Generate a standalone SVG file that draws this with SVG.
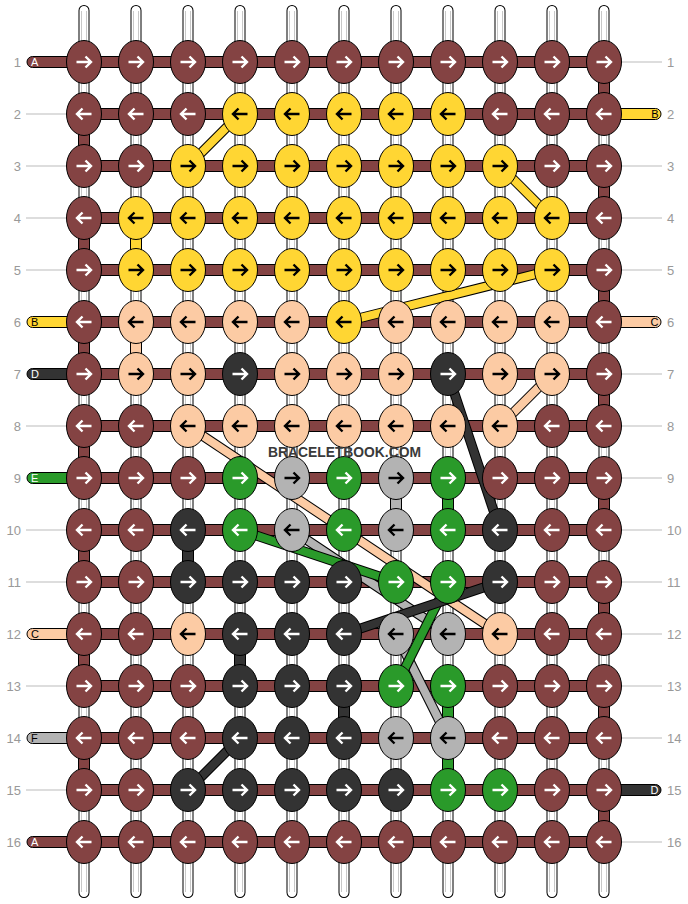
<svg xmlns="http://www.w3.org/2000/svg" width="688" height="904" viewBox="0 0 688 904">
<style>
.warpo{stroke:#000;stroke-width:11;stroke-linecap:round}
.warpi{stroke:#fff;stroke-width:9;stroke-linecap:round}
.warpg{stroke:#c8c8c8;stroke-width:1}
.seg{stroke:#000;stroke-width:1}
.band{fill:#844343;stroke:#000;stroke-width:1}
.fb{fill:#844343}.fy{fill:#ffd633}.fp{fill:#fccba4}.fd{fill:#333}.fg{fill:#2a9a2a}.fs{fill:#b3b3b3}
.dgo{stroke:#000;stroke-width:10}
.dg{stroke-width:8}
.cy{stroke:#ffd633}.cp{stroke:#fccba4}.cd{stroke:#333}.cg{stroke:#2a9a2a}.cs{stroke:#b3b3b3}
.knots ellipse{rx:17.5px;ry:21.5px;stroke:#000;stroke-width:1}
.b ellipse{fill:#844343}.y ellipse{fill:#ffd633}.p ellipse{fill:#fccba4}.d ellipse{fill:#333}.g ellipse{fill:#2a9a2a}.s ellipse{fill:#b3b3b3}
.b use,.d use,.g use{stroke:#fff}
.y use,.p use,.s use{stroke:#000}
.arw{fill:none;stroke-width:2.4}
.num{font-family:"Liberation Sans",Arial,sans-serif;font-size:13px;fill:#999}
.guide{stroke:#bbb;stroke-width:1}
.lbl{font-family:"Liberation Sans",Arial,sans-serif;font-size:11px}
</style>
<defs>
<path id="R" class="arw" d="M-7.5 0H6.5M1.5-5.5L7 0 1.5 5.5"/>
<path id="L" class="arw" d="M7.5 0H-6.5M-1.5-5.5L-7 0-1.5 5.5"/>
</defs>
<rect width="688" height="904" fill="#fff"/>
<g id="warps">
<path class="warpo" d="M84 10.5V892.5M136 10.5V892.5M188 10.5V892.5M240 10.5V892.5M292 10.5V892.5M344 10.5V892.5M396 10.5V892.5M448 10.5V892.5M500 10.5V892.5M552 10.5V892.5M604 10.5V892.5"/>
<path class="warpi" d="M84 10.5V892.5M136 10.5V892.5M188 10.5V892.5M240 10.5V892.5M292 10.5V892.5M344 10.5V892.5M396 10.5V892.5M448 10.5V892.5M500 10.5V892.5M552 10.5V892.5M604 10.5V892.5"/>
<path class="warpg" d="M81.5 11V892M86.5 11V892M133.5 11V892M138.5 11V892M185.5 11V892M190.5 11V892M237.5 11V892M242.5 11V892M289.5 11V892M294.5 11V892M341.5 11V892M346.5 11V892M393.5 11V892M398.5 11V892M445.5 11V892M450.5 11V892M497.5 11V892M502.5 11V892M549.5 11V892M554.5 11V892M601.5 11V892M606.5 11V892"/>
</g>
<g id="guides">
<path class="guide" d="M26 114H67M26 166H67M26 218H67M26 270H67M26 426H67M26 530H67M26 582H67M26 686H67M26 790H67"/>
<path class="guide" d="M621 62H662M621 166H662M621 218H662M621 270H662M621 374H662M621 426H662M621 478H662M621 530H662M621 582H662M621 634H662M621 686H662M621 738H662M621 842H662"/>
</g>
<g id="connectors">
<g id="vsegs">
<rect class="seg fb" x="598.5" y="78" width="11" height="20"/>
<rect class="seg fb" x="598.5" y="182" width="11" height="20"/>
<rect class="seg fb" x="598.5" y="286" width="11" height="20"/>
<rect class="seg fb" x="598.5" y="390" width="11" height="20"/>
<rect class="seg fb" x="598.5" y="494" width="11" height="20"/>
<rect class="seg fb" x="598.5" y="598" width="11" height="20"/>
<rect class="seg fb" x="598.5" y="702" width="11" height="20"/>
<rect class="seg fb" x="598.5" y="806" width="11" height="20"/>
<rect class="seg fb" x="78.5" y="130" width="11" height="20"/>
<rect class="seg fb" x="78.5" y="234" width="11" height="20"/>
<rect class="seg fb" x="78.5" y="338" width="11" height="20"/>
<rect class="seg fb" x="78.5" y="442" width="11" height="20"/>
<rect class="seg fb" x="78.5" y="546" width="11" height="20"/>
<rect class="seg fb" x="78.5" y="650" width="11" height="20"/>
<rect class="seg fb" x="78.5" y="754" width="11" height="20"/>
<rect class="seg fy" x="130.5" y="234" width="11" height="20"/>
<rect class="seg fp" x="130.5" y="338" width="11" height="20"/>
<rect class="seg fd" x="182.5" y="546" width="11" height="20"/>
<rect class="seg fd" x="234.5" y="650" width="11" height="20"/>
<rect class="seg fd" x="338.5" y="702" width="11" height="20"/>
<rect class="seg fs" x="390.5" y="494" width="11" height="20"/>
<rect class="seg fg" x="442.5" y="494" width="11" height="20"/>
<rect class="seg fg" x="442.5" y="702" width="11" height="20"/>
<rect class="seg fg" x="442.5" y="754" width="11" height="20"/>
</g>
<g id="rows">
<rect class="band" x="84" y="56.5" width="520" height="11"/>
<rect class="band" x="84" y="108.5" width="520" height="11"/>
<rect class="band" x="84" y="160.5" width="520" height="11"/>
<rect class="band" x="84" y="212.5" width="520" height="11"/>
<rect class="band" x="84" y="264.5" width="520" height="11"/>
<rect class="band" x="84" y="316.5" width="520" height="11"/>
<rect class="band" x="84" y="368.5" width="520" height="11"/>
<rect class="band" x="84" y="420.5" width="520" height="11"/>
<rect class="band" x="84" y="472.5" width="520" height="11"/>
<rect class="band" x="84" y="524.5" width="520" height="11"/>
<rect class="band" x="84" y="576.5" width="520" height="11"/>
<rect class="band" x="84" y="628.5" width="520" height="11"/>
<rect class="band" x="84" y="680.5" width="520" height="11"/>
<rect class="band" x="84" y="732.5" width="520" height="11"/>
<rect class="band" x="84" y="784.5" width="520" height="11"/>
<rect class="band" x="84" y="836.5" width="520" height="11"/>
</g>
<g id="stubs">
<rect class="seg fb" x="27" y="56.5" width="70" height="11" rx="5.5"/>
<rect class="seg fy" x="27" y="316.5" width="70" height="11" rx="5.5"/>
<rect class="seg fd" x="27" y="368.5" width="70" height="11" rx="5.5"/>
<rect class="seg fg" x="27" y="472.5" width="70" height="11" rx="5.5"/>
<rect class="seg fp" x="27" y="628.5" width="70" height="11" rx="5.5"/>
<rect class="seg fs" x="27" y="732.5" width="70" height="11" rx="5.5"/>
<rect class="seg fb" x="27" y="836.5" width="70" height="11" rx="5.5"/>
<rect class="seg fy" x="591" y="108.5" width="70" height="11" rx="5.5"/>
<rect class="seg fp" x="591" y="316.5" width="70" height="11" rx="5.5"/>
<rect class="seg fd" x="591" y="784.5" width="70" height="11" rx="5.5"/>
</g>
<g id="diagonals" fill="none">
<path class="dgo" d="M240 114L188 166"/><path class="dg cy" d="M240 114L188 166"/>
<path class="dgo" d="M500 166L552 218"/><path class="dg cy" d="M500 166L552 218"/>
<path class="dgo" d="M344 322L552 270"/><path class="dg cy" d="M344 322L552 270"/>
<path class="dgo" d="M552 374L500 426"/><path class="dg cp" d="M552 374L500 426"/>
<path class="dgo" d="M448 374L500 530"/><path class="dg cd" d="M448 374L500 530"/>
<path class="dgo" d="M188 426L500 634"/><path class="dg cp" d="M188 426L500 634"/>
<path class="dgo" d="M292 530L448 634"/><path class="dg cs" d="M292 530L448 634"/>
<path class="dgo" d="M240 530L396 582"/><path class="dg cg" d="M240 530L396 582"/>
<path class="dgo" d="M396 634L448 738"/><path class="dg cs" d="M396 634L448 738"/>
<path class="dgo" d="M448 582L396 686"/><path class="dg cg" d="M448 582L396 686"/>
<path class="dgo" d="M500 582L344 634"/><path class="dg cd" d="M500 582L344 634"/>
<path class="dgo" d="M240 738L188 790"/><path class="dg cd" d="M240 738L188 790"/>
</g>
</g>
<g class="knots">
<g id="n1_1" class="b"><ellipse cx="84" cy="62"/><use href="#R" x="84" y="62"/></g>
<g id="n1_2" class="b"><ellipse cx="136" cy="62"/><use href="#R" x="136" y="62"/></g>
<g id="n1_3" class="b"><ellipse cx="188" cy="62"/><use href="#R" x="188" y="62"/></g>
<g id="n1_4" class="b"><ellipse cx="240" cy="62"/><use href="#R" x="240" y="62"/></g>
<g id="n1_5" class="b"><ellipse cx="292" cy="62"/><use href="#R" x="292" y="62"/></g>
<g id="n1_6" class="b"><ellipse cx="344" cy="62"/><use href="#R" x="344" y="62"/></g>
<g id="n1_7" class="b"><ellipse cx="396" cy="62"/><use href="#R" x="396" y="62"/></g>
<g id="n1_8" class="b"><ellipse cx="448" cy="62"/><use href="#R" x="448" y="62"/></g>
<g id="n1_9" class="b"><ellipse cx="500" cy="62"/><use href="#R" x="500" y="62"/></g>
<g id="n1_10" class="b"><ellipse cx="552" cy="62"/><use href="#R" x="552" y="62"/></g>
<g id="n1_11" class="b"><ellipse cx="604" cy="62"/><use href="#R" x="604" y="62"/></g>
<g id="n2_1" class="b"><ellipse cx="84" cy="114"/><use href="#L" x="84" y="114"/></g>
<g id="n2_2" class="b"><ellipse cx="136" cy="114"/><use href="#L" x="136" y="114"/></g>
<g id="n2_3" class="b"><ellipse cx="188" cy="114"/><use href="#L" x="188" y="114"/></g>
<g id="n2_4" class="y"><ellipse cx="240" cy="114"/><use href="#L" x="240" y="114"/></g>
<g id="n2_5" class="y"><ellipse cx="292" cy="114"/><use href="#L" x="292" y="114"/></g>
<g id="n2_6" class="y"><ellipse cx="344" cy="114"/><use href="#L" x="344" y="114"/></g>
<g id="n2_7" class="y"><ellipse cx="396" cy="114"/><use href="#L" x="396" y="114"/></g>
<g id="n2_8" class="y"><ellipse cx="448" cy="114"/><use href="#L" x="448" y="114"/></g>
<g id="n2_9" class="b"><ellipse cx="500" cy="114"/><use href="#L" x="500" y="114"/></g>
<g id="n2_10" class="b"><ellipse cx="552" cy="114"/><use href="#L" x="552" y="114"/></g>
<g id="n2_11" class="b"><ellipse cx="604" cy="114"/><use href="#L" x="604" y="114"/></g>
<g id="n3_1" class="b"><ellipse cx="84" cy="166"/><use href="#R" x="84" y="166"/></g>
<g id="n3_2" class="b"><ellipse cx="136" cy="166"/><use href="#R" x="136" y="166"/></g>
<g id="n3_3" class="y"><ellipse cx="188" cy="166"/><use href="#R" x="188" y="166"/></g>
<g id="n3_4" class="y"><ellipse cx="240" cy="166"/><use href="#R" x="240" y="166"/></g>
<g id="n3_5" class="y"><ellipse cx="292" cy="166"/><use href="#R" x="292" y="166"/></g>
<g id="n3_6" class="y"><ellipse cx="344" cy="166"/><use href="#R" x="344" y="166"/></g>
<g id="n3_7" class="y"><ellipse cx="396" cy="166"/><use href="#R" x="396" y="166"/></g>
<g id="n3_8" class="y"><ellipse cx="448" cy="166"/><use href="#R" x="448" y="166"/></g>
<g id="n3_9" class="y"><ellipse cx="500" cy="166"/><use href="#R" x="500" y="166"/></g>
<g id="n3_10" class="b"><ellipse cx="552" cy="166"/><use href="#R" x="552" y="166"/></g>
<g id="n3_11" class="b"><ellipse cx="604" cy="166"/><use href="#R" x="604" y="166"/></g>
<g id="n4_1" class="b"><ellipse cx="84" cy="218"/><use href="#L" x="84" y="218"/></g>
<g id="n4_2" class="y"><ellipse cx="136" cy="218"/><use href="#L" x="136" y="218"/></g>
<g id="n4_3" class="y"><ellipse cx="188" cy="218"/><use href="#L" x="188" y="218"/></g>
<g id="n4_4" class="y"><ellipse cx="240" cy="218"/><use href="#L" x="240" y="218"/></g>
<g id="n4_5" class="y"><ellipse cx="292" cy="218"/><use href="#L" x="292" y="218"/></g>
<g id="n4_6" class="y"><ellipse cx="344" cy="218"/><use href="#L" x="344" y="218"/></g>
<g id="n4_7" class="y"><ellipse cx="396" cy="218"/><use href="#L" x="396" y="218"/></g>
<g id="n4_8" class="y"><ellipse cx="448" cy="218"/><use href="#L" x="448" y="218"/></g>
<g id="n4_9" class="y"><ellipse cx="500" cy="218"/><use href="#L" x="500" y="218"/></g>
<g id="n4_10" class="y"><ellipse cx="552" cy="218"/><use href="#L" x="552" y="218"/></g>
<g id="n4_11" class="b"><ellipse cx="604" cy="218"/><use href="#L" x="604" y="218"/></g>
<g id="n5_1" class="b"><ellipse cx="84" cy="270"/><use href="#R" x="84" y="270"/></g>
<g id="n5_2" class="y"><ellipse cx="136" cy="270"/><use href="#R" x="136" y="270"/></g>
<g id="n5_3" class="y"><ellipse cx="188" cy="270"/><use href="#R" x="188" y="270"/></g>
<g id="n5_4" class="y"><ellipse cx="240" cy="270"/><use href="#R" x="240" y="270"/></g>
<g id="n5_5" class="y"><ellipse cx="292" cy="270"/><use href="#R" x="292" y="270"/></g>
<g id="n5_6" class="y"><ellipse cx="344" cy="270"/><use href="#R" x="344" y="270"/></g>
<g id="n5_7" class="y"><ellipse cx="396" cy="270"/><use href="#R" x="396" y="270"/></g>
<g id="n5_8" class="y"><ellipse cx="448" cy="270"/><use href="#R" x="448" y="270"/></g>
<g id="n5_9" class="y"><ellipse cx="500" cy="270"/><use href="#R" x="500" y="270"/></g>
<g id="n5_10" class="y"><ellipse cx="552" cy="270"/><use href="#R" x="552" y="270"/></g>
<g id="n5_11" class="b"><ellipse cx="604" cy="270"/><use href="#R" x="604" y="270"/></g>
<g id="n6_1" class="b"><ellipse cx="84" cy="322"/><use href="#L" x="84" y="322"/></g>
<g id="n6_2" class="p"><ellipse cx="136" cy="322"/><use href="#L" x="136" y="322"/></g>
<g id="n6_3" class="p"><ellipse cx="188" cy="322"/><use href="#L" x="188" y="322"/></g>
<g id="n6_4" class="p"><ellipse cx="240" cy="322"/><use href="#L" x="240" y="322"/></g>
<g id="n6_5" class="p"><ellipse cx="292" cy="322"/><use href="#L" x="292" y="322"/></g>
<g id="n6_6" class="y"><ellipse cx="344" cy="322"/><use href="#L" x="344" y="322"/></g>
<g id="n6_7" class="p"><ellipse cx="396" cy="322"/><use href="#L" x="396" y="322"/></g>
<g id="n6_8" class="p"><ellipse cx="448" cy="322"/><use href="#L" x="448" y="322"/></g>
<g id="n6_9" class="p"><ellipse cx="500" cy="322"/><use href="#L" x="500" y="322"/></g>
<g id="n6_10" class="p"><ellipse cx="552" cy="322"/><use href="#L" x="552" y="322"/></g>
<g id="n6_11" class="b"><ellipse cx="604" cy="322"/><use href="#L" x="604" y="322"/></g>
<g id="n7_1" class="b"><ellipse cx="84" cy="374"/><use href="#R" x="84" y="374"/></g>
<g id="n7_2" class="p"><ellipse cx="136" cy="374"/><use href="#R" x="136" y="374"/></g>
<g id="n7_3" class="p"><ellipse cx="188" cy="374"/><use href="#R" x="188" y="374"/></g>
<g id="n7_4" class="d"><ellipse cx="240" cy="374"/><use href="#R" x="240" y="374"/></g>
<g id="n7_5" class="p"><ellipse cx="292" cy="374"/><use href="#R" x="292" y="374"/></g>
<g id="n7_6" class="p"><ellipse cx="344" cy="374"/><use href="#R" x="344" y="374"/></g>
<g id="n7_7" class="p"><ellipse cx="396" cy="374"/><use href="#R" x="396" y="374"/></g>
<g id="n7_8" class="d"><ellipse cx="448" cy="374"/><use href="#R" x="448" y="374"/></g>
<g id="n7_9" class="p"><ellipse cx="500" cy="374"/><use href="#R" x="500" y="374"/></g>
<g id="n7_10" class="p"><ellipse cx="552" cy="374"/><use href="#R" x="552" y="374"/></g>
<g id="n7_11" class="b"><ellipse cx="604" cy="374"/><use href="#R" x="604" y="374"/></g>
<g id="n8_1" class="b"><ellipse cx="84" cy="426"/><use href="#L" x="84" y="426"/></g>
<g id="n8_2" class="b"><ellipse cx="136" cy="426"/><use href="#L" x="136" y="426"/></g>
<g id="n8_3" class="p"><ellipse cx="188" cy="426"/><use href="#L" x="188" y="426"/></g>
<g id="n8_4" class="p"><ellipse cx="240" cy="426"/><use href="#L" x="240" y="426"/></g>
<g id="n8_5" class="p"><ellipse cx="292" cy="426"/><use href="#L" x="292" y="426"/></g>
<g id="n8_6" class="p"><ellipse cx="344" cy="426"/><use href="#L" x="344" y="426"/></g>
<g id="n8_7" class="p"><ellipse cx="396" cy="426"/><use href="#L" x="396" y="426"/></g>
<g id="n8_8" class="p"><ellipse cx="448" cy="426"/><use href="#L" x="448" y="426"/></g>
<g id="n8_9" class="p"><ellipse cx="500" cy="426"/><use href="#L" x="500" y="426"/></g>
<g id="n8_10" class="b"><ellipse cx="552" cy="426"/><use href="#L" x="552" y="426"/></g>
<g id="n8_11" class="b"><ellipse cx="604" cy="426"/><use href="#L" x="604" y="426"/></g>
<g id="n9_1" class="b"><ellipse cx="84" cy="478"/><use href="#R" x="84" y="478"/></g>
<g id="n9_2" class="b"><ellipse cx="136" cy="478"/><use href="#R" x="136" y="478"/></g>
<g id="n9_3" class="b"><ellipse cx="188" cy="478"/><use href="#R" x="188" y="478"/></g>
<g id="n9_4" class="g"><ellipse cx="240" cy="478"/><use href="#R" x="240" y="478"/></g>
<g id="n9_5" class="s"><ellipse cx="292" cy="478"/><use href="#R" x="292" y="478"/></g>
<g id="n9_6" class="g"><ellipse cx="344" cy="478"/><use href="#R" x="344" y="478"/></g>
<g id="n9_7" class="s"><ellipse cx="396" cy="478"/><use href="#R" x="396" y="478"/></g>
<g id="n9_8" class="g"><ellipse cx="448" cy="478"/><use href="#R" x="448" y="478"/></g>
<g id="n9_9" class="b"><ellipse cx="500" cy="478"/><use href="#R" x="500" y="478"/></g>
<g id="n9_10" class="b"><ellipse cx="552" cy="478"/><use href="#R" x="552" y="478"/></g>
<g id="n9_11" class="b"><ellipse cx="604" cy="478"/><use href="#R" x="604" y="478"/></g>
<g id="n10_1" class="b"><ellipse cx="84" cy="530"/><use href="#L" x="84" y="530"/></g>
<g id="n10_2" class="b"><ellipse cx="136" cy="530"/><use href="#L" x="136" y="530"/></g>
<g id="n10_3" class="d"><ellipse cx="188" cy="530"/><use href="#L" x="188" y="530"/></g>
<g id="n10_4" class="g"><ellipse cx="240" cy="530"/><use href="#L" x="240" y="530"/></g>
<g id="n10_5" class="s"><ellipse cx="292" cy="530"/><use href="#L" x="292" y="530"/></g>
<g id="n10_6" class="g"><ellipse cx="344" cy="530"/><use href="#L" x="344" y="530"/></g>
<g id="n10_7" class="s"><ellipse cx="396" cy="530"/><use href="#L" x="396" y="530"/></g>
<g id="n10_8" class="g"><ellipse cx="448" cy="530"/><use href="#L" x="448" y="530"/></g>
<g id="n10_9" class="d"><ellipse cx="500" cy="530"/><use href="#L" x="500" y="530"/></g>
<g id="n10_10" class="b"><ellipse cx="552" cy="530"/><use href="#L" x="552" y="530"/></g>
<g id="n10_11" class="b"><ellipse cx="604" cy="530"/><use href="#L" x="604" y="530"/></g>
<g id="n11_1" class="b"><ellipse cx="84" cy="582"/><use href="#R" x="84" y="582"/></g>
<g id="n11_2" class="b"><ellipse cx="136" cy="582"/><use href="#R" x="136" y="582"/></g>
<g id="n11_3" class="d"><ellipse cx="188" cy="582"/><use href="#R" x="188" y="582"/></g>
<g id="n11_4" class="d"><ellipse cx="240" cy="582"/><use href="#R" x="240" y="582"/></g>
<g id="n11_5" class="d"><ellipse cx="292" cy="582"/><use href="#R" x="292" y="582"/></g>
<g id="n11_6" class="d"><ellipse cx="344" cy="582"/><use href="#R" x="344" y="582"/></g>
<g id="n11_7" class="g"><ellipse cx="396" cy="582"/><use href="#R" x="396" y="582"/></g>
<g id="n11_8" class="g"><ellipse cx="448" cy="582"/><use href="#R" x="448" y="582"/></g>
<g id="n11_9" class="d"><ellipse cx="500" cy="582"/><use href="#R" x="500" y="582"/></g>
<g id="n11_10" class="b"><ellipse cx="552" cy="582"/><use href="#R" x="552" y="582"/></g>
<g id="n11_11" class="b"><ellipse cx="604" cy="582"/><use href="#R" x="604" y="582"/></g>
<g id="n12_1" class="b"><ellipse cx="84" cy="634"/><use href="#L" x="84" y="634"/></g>
<g id="n12_2" class="b"><ellipse cx="136" cy="634"/><use href="#L" x="136" y="634"/></g>
<g id="n12_3" class="p"><ellipse cx="188" cy="634"/><use href="#L" x="188" y="634"/></g>
<g id="n12_4" class="d"><ellipse cx="240" cy="634"/><use href="#L" x="240" y="634"/></g>
<g id="n12_5" class="d"><ellipse cx="292" cy="634"/><use href="#L" x="292" y="634"/></g>
<g id="n12_6" class="d"><ellipse cx="344" cy="634"/><use href="#L" x="344" y="634"/></g>
<g id="n12_7" class="s"><ellipse cx="396" cy="634"/><use href="#L" x="396" y="634"/></g>
<g id="n12_8" class="s"><ellipse cx="448" cy="634"/><use href="#L" x="448" y="634"/></g>
<g id="n12_9" class="p"><ellipse cx="500" cy="634"/><use href="#L" x="500" y="634"/></g>
<g id="n12_10" class="b"><ellipse cx="552" cy="634"/><use href="#L" x="552" y="634"/></g>
<g id="n12_11" class="b"><ellipse cx="604" cy="634"/><use href="#L" x="604" y="634"/></g>
<g id="n13_1" class="b"><ellipse cx="84" cy="686"/><use href="#R" x="84" y="686"/></g>
<g id="n13_2" class="b"><ellipse cx="136" cy="686"/><use href="#R" x="136" y="686"/></g>
<g id="n13_3" class="b"><ellipse cx="188" cy="686"/><use href="#R" x="188" y="686"/></g>
<g id="n13_4" class="d"><ellipse cx="240" cy="686"/><use href="#R" x="240" y="686"/></g>
<g id="n13_5" class="d"><ellipse cx="292" cy="686"/><use href="#R" x="292" y="686"/></g>
<g id="n13_6" class="d"><ellipse cx="344" cy="686"/><use href="#R" x="344" y="686"/></g>
<g id="n13_7" class="g"><ellipse cx="396" cy="686"/><use href="#R" x="396" y="686"/></g>
<g id="n13_8" class="g"><ellipse cx="448" cy="686"/><use href="#R" x="448" y="686"/></g>
<g id="n13_9" class="b"><ellipse cx="500" cy="686"/><use href="#R" x="500" y="686"/></g>
<g id="n13_10" class="b"><ellipse cx="552" cy="686"/><use href="#R" x="552" y="686"/></g>
<g id="n13_11" class="b"><ellipse cx="604" cy="686"/><use href="#R" x="604" y="686"/></g>
<g id="n14_1" class="b"><ellipse cx="84" cy="738"/><use href="#L" x="84" y="738"/></g>
<g id="n14_2" class="b"><ellipse cx="136" cy="738"/><use href="#L" x="136" y="738"/></g>
<g id="n14_3" class="b"><ellipse cx="188" cy="738"/><use href="#L" x="188" y="738"/></g>
<g id="n14_4" class="d"><ellipse cx="240" cy="738"/><use href="#L" x="240" y="738"/></g>
<g id="n14_5" class="d"><ellipse cx="292" cy="738"/><use href="#L" x="292" y="738"/></g>
<g id="n14_6" class="d"><ellipse cx="344" cy="738"/><use href="#L" x="344" y="738"/></g>
<g id="n14_7" class="s"><ellipse cx="396" cy="738"/><use href="#L" x="396" y="738"/></g>
<g id="n14_8" class="s"><ellipse cx="448" cy="738"/><use href="#L" x="448" y="738"/></g>
<g id="n14_9" class="b"><ellipse cx="500" cy="738"/><use href="#L" x="500" y="738"/></g>
<g id="n14_10" class="b"><ellipse cx="552" cy="738"/><use href="#L" x="552" y="738"/></g>
<g id="n14_11" class="b"><ellipse cx="604" cy="738"/><use href="#L" x="604" y="738"/></g>
<g id="n15_1" class="b"><ellipse cx="84" cy="790"/><use href="#R" x="84" y="790"/></g>
<g id="n15_2" class="b"><ellipse cx="136" cy="790"/><use href="#R" x="136" y="790"/></g>
<g id="n15_3" class="d"><ellipse cx="188" cy="790"/><use href="#R" x="188" y="790"/></g>
<g id="n15_4" class="d"><ellipse cx="240" cy="790"/><use href="#R" x="240" y="790"/></g>
<g id="n15_5" class="d"><ellipse cx="292" cy="790"/><use href="#R" x="292" y="790"/></g>
<g id="n15_6" class="d"><ellipse cx="344" cy="790"/><use href="#R" x="344" y="790"/></g>
<g id="n15_7" class="d"><ellipse cx="396" cy="790"/><use href="#R" x="396" y="790"/></g>
<g id="n15_8" class="g"><ellipse cx="448" cy="790"/><use href="#R" x="448" y="790"/></g>
<g id="n15_9" class="g"><ellipse cx="500" cy="790"/><use href="#R" x="500" y="790"/></g>
<g id="n15_10" class="b"><ellipse cx="552" cy="790"/><use href="#R" x="552" y="790"/></g>
<g id="n15_11" class="b"><ellipse cx="604" cy="790"/><use href="#R" x="604" y="790"/></g>
<g id="n16_1" class="b"><ellipse cx="84" cy="842"/><use href="#L" x="84" y="842"/></g>
<g id="n16_2" class="b"><ellipse cx="136" cy="842"/><use href="#L" x="136" y="842"/></g>
<g id="n16_3" class="b"><ellipse cx="188" cy="842"/><use href="#L" x="188" y="842"/></g>
<g id="n16_4" class="b"><ellipse cx="240" cy="842"/><use href="#L" x="240" y="842"/></g>
<g id="n16_5" class="b"><ellipse cx="292" cy="842"/><use href="#L" x="292" y="842"/></g>
<g id="n16_6" class="b"><ellipse cx="344" cy="842"/><use href="#L" x="344" y="842"/></g>
<g id="n16_7" class="b"><ellipse cx="396" cy="842"/><use href="#L" x="396" y="842"/></g>
<g id="n16_8" class="b"><ellipse cx="448" cy="842"/><use href="#L" x="448" y="842"/></g>
<g id="n16_9" class="b"><ellipse cx="500" cy="842"/><use href="#L" x="500" y="842"/></g>
<g id="n16_10" class="b"><ellipse cx="552" cy="842"/><use href="#L" x="552" y="842"/></g>
<g id="n16_11" class="b"><ellipse cx="604" cy="842"/><use href="#L" x="604" y="842"/></g>
</g>
<g id="stub-labels" class="lbl">
<text x="31" y="66" fill="#fff">A</text>
<text x="31" y="326" fill="#000">B</text>
<text x="31" y="378" fill="#fff">D</text>
<text x="31" y="482" fill="#fff">E</text>
<text x="31" y="638" fill="#000">C</text>
<text x="31" y="742" fill="#000">F</text>
<text x="31" y="846" fill="#fff">A</text>
<text x="658.5" y="118" fill="#000" text-anchor="end">B</text>
<text x="658.5" y="326" fill="#000" text-anchor="end">C</text>
<text x="658.5" y="794" fill="#fff" text-anchor="end">D</text>
</g>
<g id="row-numbers" class="num">
<g text-anchor="end">
<text x="21" y="66.5">1</text><text x="21" y="118.5">2</text><text x="21" y="170.5">3</text><text x="21" y="222.5">4</text>
<text x="21" y="274.5">5</text><text x="21" y="326.5">6</text><text x="21" y="378.5">7</text><text x="21" y="430.5">8</text>
<text x="21" y="482.5">9</text><text x="21" y="534.5">10</text><text x="21" y="586.5">11</text><text x="21" y="638.5">12</text>
<text x="21" y="690.5">13</text><text x="21" y="742.5">14</text><text x="21" y="794.5">15</text><text x="21" y="846.5">16</text>
</g>
<g>
<text x="667" y="66.5">1</text><text x="667" y="118.5">2</text><text x="667" y="170.5">3</text><text x="667" y="222.5">4</text>
<text x="667" y="274.5">5</text><text x="667" y="326.5">6</text><text x="667" y="378.5">7</text><text x="667" y="430.5">8</text>
<text x="667" y="482.5">9</text><text x="667" y="534.5">10</text><text x="667" y="586.5">11</text><text x="667" y="638.5">12</text>
<text x="667" y="690.5">13</text><text x="667" y="742.5">14</text><text x="667" y="794.5">15</text><text x="667" y="846.5">16</text>
</g>
</g>
<text x="344.5" y="457" text-anchor="middle" font-family="'Liberation Sans',Arial,sans-serif" font-weight="bold" font-size="15" textLength="153" lengthAdjust="spacingAndGlyphs" fill="#3a3a3a">BRACELETBOOK.COM</text>
</svg>
